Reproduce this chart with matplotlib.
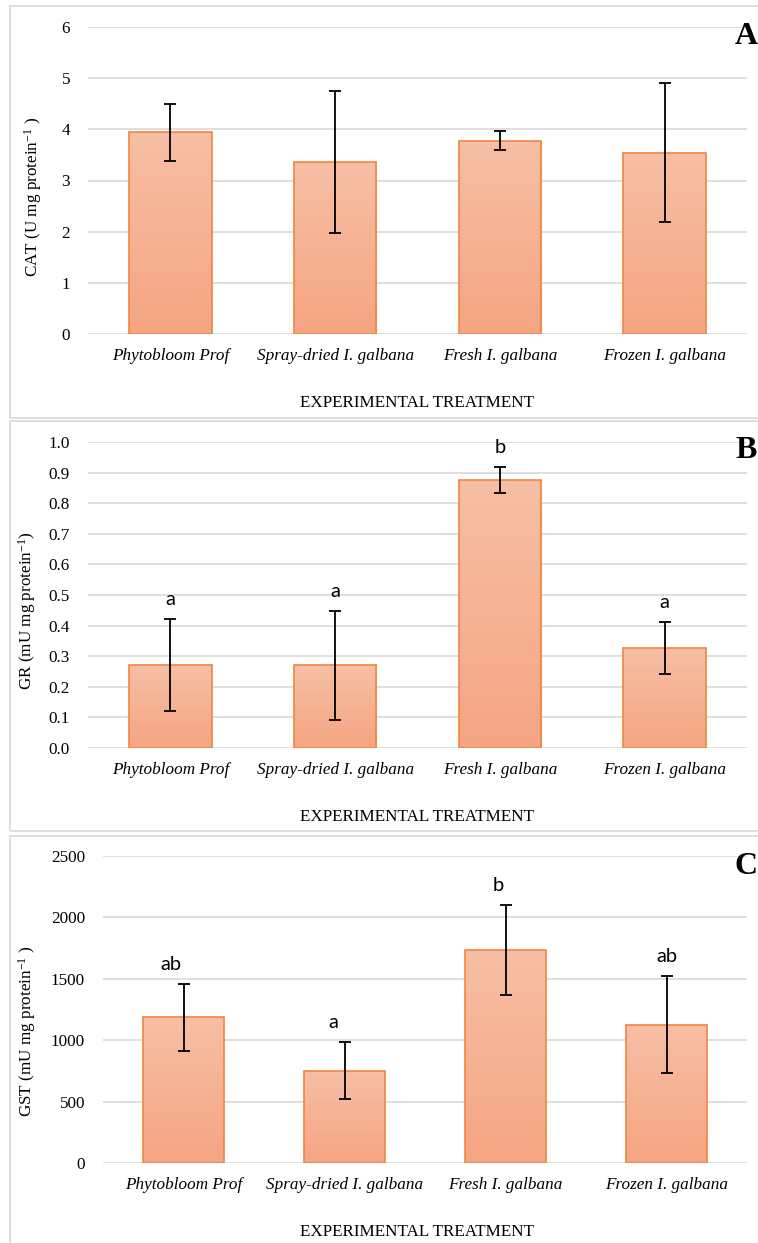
import matplotlib
matplotlib.use('Agg')
import matplotlib.pyplot as plt
import numpy as np
from matplotlib.patches import Rectangle
from matplotlib.colors import LinearSegmentedColormap

plt.rcParams['font.family'] = 'Liberation Serif'
plt.rcParams['mathtext.fontset'] = 'custom'
plt.rcParams['mathtext.rm'] = 'Liberation Serif'
plt.rcParams['mathtext.it'] = 'Liberation Serif:italic'

treatments = ['Phytobloom Prof', 'Spray-dried I. galbana', 'Fresh I. galbana', 'Frozen I. galbana']

# CAT activity
cat_mean = [3.94, 3.36, 3.78, 3.54]
cat_err = [0.56, 1.38, 0.19, 1.36]

# GR activity
gr_mean = [0.272, 0.270, 0.876, 0.327]
gr_err = [0.150, 0.178, 0.043, 0.085]
gr_letters = ['a', 'a', 'b', 'a']

# GST activity
gst_mean = [1185, 753, 1736, 1125]
gst_err = [270, 234, 367, 396]
gst_letters = ['ab', 'a', 'b', 'ab']

W, H = 758, 1243
fig = plt.figure(figsize=(W/100, H/100), dpi=100)

grid_col = '#D9D9D9'
edge_col = '#EF8642'
bar_cmap = LinearSegmentedColormap.from_list('bar', ['#F5A582', '#F7BFA5'])
fsize = 12.3


def px_axes(left, top, right, bottom):
    return fig.add_axes([left/W, 1 - bottom/H, (right - left)/W, (bottom - top)/H])


def panel_box(top, bottom):
    fig.patches.append(Rectangle((10/W, 1 - bottom/H), (W + 20)/W, (bottom - top)/H,
                                 transform=fig.transFigure, fill=False,
                                 ec=grid_col, lw=1.2))


def draw_panel(ax, mean, err, ymax, ystep, fmt, letters=None, nudge=None):
    x = np.arange(len(treatments))
    ax.set_axisbelow(True)
    bars = ax.bar(x, mean, width=0.5, color='none', edgecolor=edge_col, lw=1.2, zorder=3)
    grad = np.linspace(0, 1, 256).reshape(-1, 1)
    for b in bars:
        x0 = b.get_x()
        im = ax.imshow(grad, extent=[x0, x0 + b.get_width(), 0, b.get_height()],
                       origin='lower', aspect='auto', cmap=bar_cmap, zorder=2)
        im.set_clip_path(b)
    ax.errorbar(x, mean, yerr=err, fmt='none', ecolor='black', elinewidth=1.3,
                capsize=4, capthick=1.3, zorder=4)
    ax.set_xlim(-0.5, len(treatments) - 0.5)
    ax.set_ylim(0, ymax)
    ax.set_yticks(np.arange(0, ymax + ystep/2, ystep))
    ax.yaxis.set_major_formatter(matplotlib.ticker.StrMethodFormatter(fmt))
    ax.set_xticks(x)
    ax.set_xticklabels(treatments, style='italic', fontsize=fsize)
    ax.tick_params(axis='y', length=0, pad=13, labelsize=fsize)
    ax.tick_params(axis='x', length=0, pad=10)
    ax.grid(axis='y', color=grid_col, lw=1.2)
    for s in ax.spines.values():
        s.set_visible(False)
    if letters:
        if nudge is None:
            nudge = [0] * len(letters)
        for i, lab in enumerate(letters):
            ax.annotate(lab, (x[i], mean[i] + err[i]), xytext=(nudge[i], 14),
                        textcoords='offset points', ha='center', va='center',
                        family='Lato', fontsize=14.5)


# ---- A: CAT ----
panel_box(6, 418)
axA = px_axes(88, 27, 747, 334)
draw_panel(axA, cat_mean, cat_err, 6, 1, '{x:.0f}')
fig.text(33/W, 1 - 197/H, r'CAT (U mg protein$^{\mathrm{-1}}$ )', rotation=90,
         ha='center', va='center', fontsize=fsize)
fig.text(417/W, 1 - 403/H, 'EXPERIMENTAL TREATMENT', ha='center', va='center', fontsize=fsize)
fig.text(735/W, 1 - 37/H, 'A', ha='left', va='center', fontsize=23, fontweight='bold')

# ---- B: GR ----
panel_box(421, 831)
axB = px_axes(88, 442, 747, 748)
draw_panel(axB, gr_mean, gr_err, 1.0, 0.1, '{x:.1f}', gr_letters)
fig.text(27/W, 1 - 611/H, r'GR (mU mg protein$^{\mathrm{-1}}$)', rotation=90,
         ha='center', va='center', fontsize=fsize)
fig.text(417/W, 1 - 817/H, 'EXPERIMENTAL TREATMENT', ha='center', va='center', fontsize=fsize)
fig.text(735/W, 1 - 450/H, 'B', ha='left', va='center', fontsize=23, fontweight='bold')

# ---- C: GST ----
panel_box(836, 1270)
axC = px_axes(103, 856, 747, 1163)
draw_panel(axC, gst_mean, gst_err, 2500, 500, '{x:.0f}', gst_letters, nudge=[-9, -8, -5, 0])
fig.text(27/W, 1 - 1031/H, r'GST (mU mg protein$^{\mathrm{-1}}$ )', rotation=90,
         ha='center', va='center', fontsize=fsize)
fig.text(417/W, 1 - 1232/H, 'EXPERIMENTAL TREATMENT', ha='center', va='center', fontsize=fsize)
fig.text(735/W, 1 - 867/H, 'C', ha='left', va='center', fontsize=23, fontweight='bold')

fig.savefig('out.png', dpi=100)
